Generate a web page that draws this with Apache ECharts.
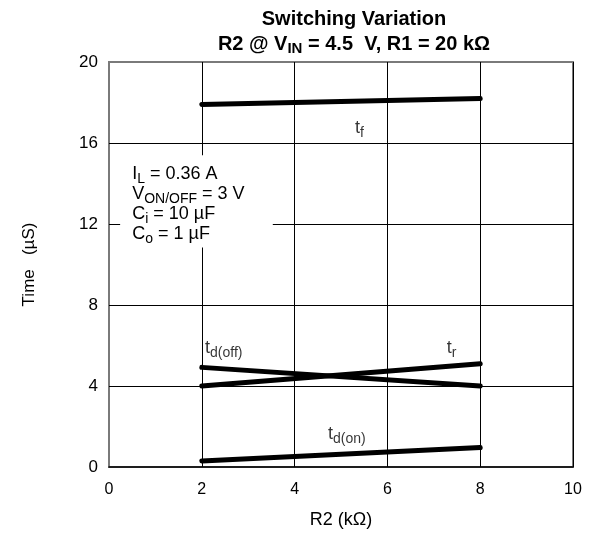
<!DOCTYPE html>
<html>
<head>
<meta charset="utf-8">
<script src="https://cdn.jsdelivr.net/npm/echarts@6/dist/echarts.min.js"></script>
<style>
html,body{margin:0;padding:0;background:#fff;}
#chart{width:600px;height:535px;}
</style>
</head>
<body>
<div id="chart"></div>
<script>
// ---- data ----
const r2Values = [2, 8];
const tf    = [17.9, 18.2];
const tdOff = [4.92, 4.0];
const tr    = [4.0, 5.1];
const tdOn  = [0.3, 0.96];
const xTicks = [0, 2, 4, 6, 8, 10];
const yTicks = [0, 4, 8, 12, 16, 20];
// curve labels: [x, y, main, subscript]
const curveLabels = [
  [5.3, 16.8, 't', 'f'],
  [2.07, 5.9, 't', 'd(off)'],
  [7.28, 5.9, 't', 'r'],
  [4.72, 1.68, 't', 'd(on)']
];
// conditions box corners (data units) and text anchor
const condBox = [[0.24, 15.4], [3.53, 10.84]];
const condText = [0.5, 14.95];
const condLines = [
  ['I', 'L', ' = 0.36 A'],
  ['V', 'ON/OFF', ' = 3 V'],
  ['C', 'i', ' = 10 µF'],
  ['C', 'o', ' = 1 µF']
];

const FONT = '"Liberation Sans", Arial, Helvetica, sans-serif';
const chart = echarts.init(document.getElementById('chart'), null, {renderer: 'canvas'});

function pairs(ys) { return r2Values.map((x, i) => [x, ys[i]]); }

const lineStyle = {color: '#000', width: 5, cap: 'round'};
function lineSeries(name, ys) {
  return {
    name, type: 'line', data: pairs(ys), symbol: 'none', z: 3,
    lineStyle: lineStyle, animation: false
  };
}

const rich = {
  n: {fontSize: 18, fontFamily: FONT, color: '#000', lineHeight: 20},
  s: {fontSize: 14, fontFamily: FONT, color: '#000', lineHeight: 20, padding: [10, 0, 0, 0]}
};

const option = {
  animation: false,
  backgroundColor: '#fff',
  title: {
    text: 'Switching Variation',
    subtext: '{b|R2 @ V}{bs|IN}{b| = 4.5  V, R1 = 20 kΩ}',
    left: 349, top: 4, textAlign: 'center', itemGap: 4,
    textStyle: {fontFamily: FONT, fontWeight: 'bold', fontSize: 20, color: '#000'},
    subtextStyle: {
      rich: {
        b: {fontFamily: FONT, fontWeight: 'bold', fontSize: 20, color: '#000', lineHeight: 22},
        bs: {fontFamily: FONT, fontWeight: 'bold', fontSize: 15, color: '#000', lineHeight: 22, padding: [10, 0, 0, 0]}
      }
    }
  },
  grid: {
    left: 109, right: 27, top: 62, bottom: 68,
    show: true, borderColor: '#7a7a7a', borderWidth: 2, backgroundColor: '#fff'
  },
  xAxis: {
    type: 'value', min: 0, max: 10, interval: 2, z: 0,
    name: 'R2 (kΩ)', nameLocation: 'middle', nameGap: 44,
    nameTextStyle: {fontFamily: FONT, fontSize: 18, color: '#000'},
    axisLine: {show: true, lineStyle: {color: '#000', width: 1.5}},
    axisTick: {show: false},
    axisLabel: {fontFamily: FONT, fontSize: 16, color: '#000', margin: 15,
      formatter: v => xTicks.includes(v) ? String(v) : ''},
    splitLine: {show: true, showMinLine: false, showMaxLine: true, lineStyle: {color: '#000', width: 1}}
  },
  yAxis: {
    type: 'value', min: 0, max: 20, interval: 4, z: 0,
    name: 'Time   (µS)', nameLocation: 'middle', nameGap: 71, nameRotate: 90,
    nameTextStyle: {fontFamily: FONT, fontSize: 17, color: '#000'},
    axisLine: {show: false},
    axisTick: {show: false},
    axisLabel: {fontFamily: FONT, fontSize: 17, color: '#000', margin: 11,
      formatter: v => yTicks.includes(v) ? String(v) : ''},
    splitLine: {show: true, showMinLine: false, showMaxLine: false, lineStyle: {color: '#000', width: 1}}
  },
  series: [
    lineSeries('tf', tf),
    lineSeries('td(off)', tdOff),
    lineSeries('tr', tr),
    lineSeries('td(on)', tdOn),
    {
      name: 'labels', type: 'scatter', symbolSize: 0, z: 4, silent: true,
      data: curveLabels.map(d => ({value: [d[0], d[1]], main: d[2], sub: d[3]})),
      label: {
        show: true, position: 'right', distance: 0,
        backgroundColor: '#fff', padding: [2, 1, 0, 0],
        formatter: p => '{n|' + p.data.main + '}{s|' + p.data.sub + '}',
        rich: rich
      }
    }
  ]
};
chart.setOption(option);

// conditions box (white panel covering the grid) placed through the axes' scales
const p0 = chart.convertToPixel({gridIndex: 0}, condBox[0]);
const p1 = chart.convertToPixel({gridIndex: 0}, condBox[1]);
const pt = chart.convertToPixel({gridIndex: 0}, condText);
chart.setOption({
  graphic: [
    {
      type: 'rect', z: 1, silent: true,
      shape: {x: p0[0], y: p0[1], width: p1[0] - p0[0], height: p1[1] - p0[1]},
      style: {fill: '#fff'}
    },
    {
      type: 'text', z: 5, silent: true, x: pt[0], y: pt[1],
      style: {
        text: condLines.map(l => '{n|' + l[0] + '}{s|' + l[1] + '}{n|' + l[2] + '}').join('\n'),
        rich: rich, align: 'left', verticalAlign: 'top'
      }
    }
  ]
});
</script>
</body>
</html>
